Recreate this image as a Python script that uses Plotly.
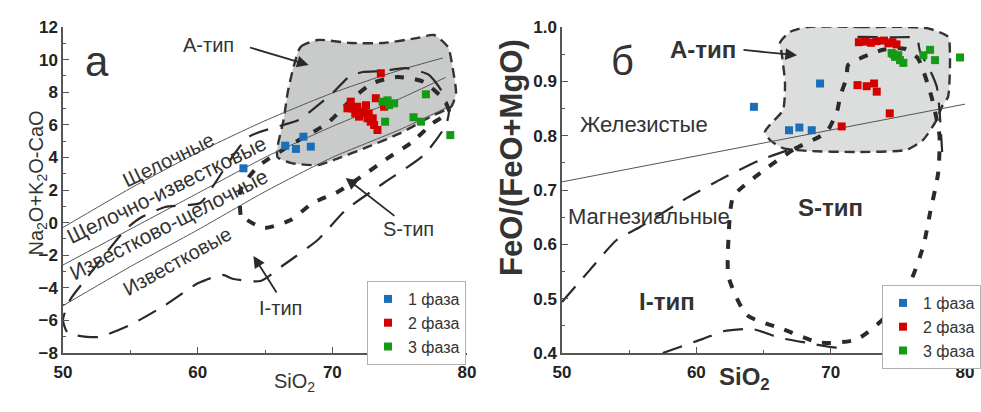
import plotly.graph_objects as go

# ---------------- data: panel a (SiO2 vs Na2O+K2O-CaO) ----------------
a_phase1_x = [63.4, 66.5, 67.3, 67.85, 68.4]
a_phase1_y = [3.33, 4.72, 4.52, 5.27, 4.66]
a_phase2_x = [71.37, 71.12, 71.86, 72.11, 72.36, 71.98, 72.61, 72.85, 73.10, 73.35,
              73.23, 73.60, 73.84, 71.5, 72.5, 72.7, 73.0, 71.7]
a_phase2_y = [7.42, 7.01, 7.11, 6.80, 6.71, 6.50, 6.40, 6.19, 5.99, 5.68,
              7.63, 9.16, 7.11, 7.0, 7.2, 6.7, 6.4, 6.7]
a_phase3_x = [73.72, 74.22, 74.59, 73.92, 76.95, 76.03, 76.58, 78.76, 74.1]
a_phase3_y = [7.42, 7.21, 7.32, 6.19, 7.87, 6.46, 6.19, 5.37, 7.5]

# boundary lines
a_line1_x = [50, 55, 60, 65, 70, 75, 78.2]
a_line1_y = [-0.3, 2.1, 4.3, 6.25, 7.95, 9.35, 10.1]
a_line2_x = [50, 55, 60, 65, 70, 75, 78.4]
a_line2_y = [-2.6, -0.4, 1.8, 4.0, 5.9, 7.6, 8.9]
a_line3_x = [50, 55, 60, 65, 70, 75, 78.6]
a_line3_y = [-5.1, -2.7, -0.45, 1.9, 4.0, 5.7, 7.1]

# A-type field
a_A_x = [67.12, 67.64, 68.91, 71.37, 73.82, 76.35, 77.54, 78.59, 78.96, 79.18, 78.81, 77.54,
         75.09, 72.63, 70.1, 68.91, 66.9, 65.93, 65.93, 66.38, 66.68, 67.12]
a_A_y = [9.55, 10.77, 11.2, 11.02, 11.02, 11.33, 11.51, 10.77, 9.36, 7.95, 7.09, 6.6,
         5.5, 4.64, 3.84, 3.53, 3.66, 4.02, 4.64, 6.29, 7.95, 9.55]
# I-type field
a_I_x = [75.46, 77.17, 78.07, 78.66, 78.44, 76.8, 73.82, 70.99, 68.91, 66.38, 64.67, 62.66,
         61.84, 60.05, 57.59, 54.99, 52.61, 50.37, 50.0, 50.52, 51.64, 54.62, 55.73, 57.59,
         60.2, 61.09, 63.77, 67.49, 68.76, 70.03, 71.22, 72.26, 73.75, 75.46]
a_I_y = [9.48, 9.06, 8.13, 6.91, 5.99, 4.15, 2.43, 0.77, -1.07, -2.60, -3.58, -3.46,
         -3.21, -3.71, -5.06, -6.28, -7.02, -6.77, -5.98, -4.75, -3.52, -0.45, 0.28, 0.96,
         1.2, 2.18, 5.25, 6.29, 7.09, 7.95, 8.93, 9.24, 9.3, 9.48]
# S-type field
a_S_x = [63.18, 63.18, 64.44, 66.9, 69.65, 71.37, 73.0, 74.86, 76.8, 78.29, 78.66, 77.47,
         75.83, 74.12, 72.33, 70.4, 68.54, 66.9, 64.89, 63.18]
a_S_y = [0.47, 2.0, 3.41, 4.76, 6.11, 7.52, 8.56, 8.93, 8.63, 7.52, 6.79, 6.11,
         4.88, 3.96, 2.92, 1.88, 1.2, 0.16, -0.33, 0.41]

# ---------------- data: panel б (SiO2 vs FeO/(FeO+MgO)) ----------------
b_phase1_x = [64.29, 69.21, 66.9, 67.67, 68.59]
b_phase1_y = [0.853, 0.896, 0.810, 0.815, 0.810]
b_phase2_x = [72.1, 72.6, 73.0, 73.4, 73.97, 74.3, 74.6, 74.9,
              72.0, 72.68, 73.23, 73.43, 74.4, 70.82]
b_phase2_y = [0.972, 0.973, 0.971, 0.974, 0.975, 0.970, 0.972, 0.968,
              0.893, 0.891, 0.896, 0.881, 0.841, 0.817]
b_phase3_x = [74.54, 74.79, 75.03, 75.16, 75.41, 74.66, 76.9, 77.4, 77.77, 79.63]
b_phase3_y = [0.952, 0.945, 0.948, 0.939, 0.934, 0.950, 0.948, 0.958, 0.939, 0.944]

b_line_x = [50, 80]
b_line_y = [0.715, 0.858]

b_A_x = [68.22, 72.18, 77.15, 78.74, 78.88, 78.74, 78.27, 77.89, 76.87, 75.66, 71.94, 68.22,
         66.45, 65.48, 65.11, 65.48, 66.45, 66.6, 66.35, 66.23, 66.97, 68.22]
b_A_y = [1.0, 1.0, 0.998, 0.982, 0.952, 0.872, 0.853, 0.829, 0.792, 0.774, 0.770, 0.772,
         0.777, 0.792, 0.807, 0.820, 0.847, 0.897, 0.952, 0.971, 0.991, 1.0]
b_I1_x = [50, 52.08, 54.07, 55.8, 59.28, 62.0, 64.74, 67.0]
b_I1_y = [0.494, 0.553, 0.608, 0.632, 0.685, 0.722, 0.755, 0.775]
b_I2_x = [57.5, 60.5, 62.0, 64.2, 66.2, 68.2, 70.5, 71.2]
b_I2_y = [0.40, 0.426, 0.44, 0.444, 0.428, 0.419, 0.41, 0.418]
b_I3_x = [72.0, 74.5, 76.4, 76.65, 77.5, 77.9, 78.1, 78.3]
b_I3_y = [0.982, 0.981, 0.979, 0.955, 0.915, 0.89, 0.847, 0.77]
b_S_x = [69.7, 67.2, 64.74, 62.75, 62.4, 62.4, 63.75, 66.45, 69.2, 71.94, 74.4, 75.9,
         76.9, 77.4, 78.0, 78.1, 77.5, 76.5, 75.5, 73.9, 71.3, 71.2, 70.7, 70.5, 69.7]
b_S_y = [0.807, 0.774, 0.731, 0.688, 0.614, 0.54, 0.47, 0.444, 0.419, 0.425, 0.474, 0.529,
         0.597, 0.658, 0.731, 0.80, 0.872, 0.942, 0.96, 0.958, 0.93, 0.908, 0.872, 0.847, 0.807]

legend_names = ["1 фаза", "2 фаза", "3 фаза"]
colors = ["#1a6fb8", "#d40000", "#149a14"]

FONT = "Liberation Sans, Arial, sans-serif"
DARK = "#333333"

fig = go.Figure()

def line(x, y, xa, ya, dash, width, fill=None, fillcolor=None, spline=True, color=DARK):
    fig.add_trace(go.Scatter(
        x=x, y=y, xaxis=xa, yaxis=ya, mode="lines", showlegend=False, hoverinfo="skip",
        line=dict(color=color, width=width, dash=dash, shape="spline" if spline else "linear",
                  smoothing=0.6),
        fill=fill, fillcolor=fillcolor))

A_DASH, I_DASH, S_DASH = "10px,6px", "20px,12px", "9px,11px"

# ---- panel a
line(a_A_x, a_A_y, "x", "y", A_DASH, 2.4, fill="toself", fillcolor="#c9caca")
for lx, ly in [(a_line1_x, a_line1_y), (a_line2_x, a_line2_y), (a_line3_x, a_line3_y)]:
    line(lx, ly, "x", "y", "solid", 1, color="#555555")
line(a_I_x, a_I_y, "x", "y", I_DASH, 2.2, color="#2a2a2a")
line(a_S_x, a_S_y, "x", "y", S_DASH, 4, color="#2a2a2a")

for xs, ys, nm, c in zip([a_phase1_x, a_phase2_x, a_phase3_x], [a_phase1_y, a_phase2_y, a_phase3_y],
                         legend_names, colors):
    fig.add_trace(go.Scatter(x=xs, y=ys, xaxis="x", yaxis="y", mode="markers", name=nm,
                             marker=dict(symbol="square", size=8, color=c, line=dict(width=0)),
                             legend="legend"))

# ---- panel б
line(b_A_x, b_A_y, "x2", "y2", A_DASH, 2.4, fill="toself", fillcolor="#dcdddd")
line(b_line_x, b_line_y, "x2", "y2", "solid", 1, color="#555555", spline=False)
line(b_I1_x, b_I1_y, "x2", "y2", I_DASH, 2.2, color="#2a2a2a")
line(b_I2_x, b_I2_y, "x2", "y2", I_DASH, 2.2, color="#2a2a2a")
line(b_I3_x, b_I3_y, "x2", "y2", I_DASH, 2.2, color="#2a2a2a")
line(b_S_x, b_S_y, "x2", "y2", S_DASH, 4, color="#2a2a2a")

for xs, ys, nm, c in zip([b_phase1_x, b_phase2_x, b_phase3_x], [b_phase1_y, b_phase2_y, b_phase3_y],
                         legend_names, colors):
    fig.add_trace(go.Scatter(x=xs, y=ys, xaxis="x2", yaxis="y2", mode="markers", name=nm,
                             marker=dict(symbol="square", size=8, color=c, line=dict(width=0)),
                             legend="legend2"))

W, H = 981, 412
ax_common = dict(showgrid=False, zeroline=False, showline=True, linecolor="#555555", linewidth=1.5,
                 ticks="inside", ticklen=6, tickcolor="#555555", tickwidth=1.2, automargin=False,
                 tickfont=dict(family=FONT, size=17, color="#222222", weight="bold"))

fig.update_layout(
    width=W, height=H, margin=dict(l=0, r=0, t=0, b=0, autoexpand=False),
    paper_bgcolor="white", plot_bgcolor="white",
    font=dict(family=FONT, color=DARK),
    xaxis=dict(domain=[63 / W, 467 / W], range=[50, 80], tickvals=[50, 60, 70, 80], anchor="y",
               ticklabelstandoff=3,
               minor=dict(dtick=5, ticks="inside", ticklen=3, tickcolor="#555555"), **ax_common),
    yaxis=dict(domain=[1 - 353 / H, 1 - 27 / H], range=[-8, 12], dtick=2, anchor="x",
               minor=dict(dtick=1, ticks="inside", ticklen=3, tickcolor="#555555"), **ax_common),
    xaxis2=dict(domain=[562 / W, 965 / W], range=[50, 80], tickvals=[50, 60, 70, 80], anchor="y2",
                ticklabelstandoff=3,
                minor=dict(dtick=5, ticks="inside", ticklen=3, tickcolor="#555555"), **ax_common),
    yaxis2=dict(domain=[1 - 353 / H, 1 - 27 / H], range=[0.4, 1.0], dtick=0.1, tickformat=".1f",
                anchor="x2", minor=dict(dtick=0.05, ticks="inside", ticklen=3, tickcolor="#555555"),
                **ax_common),
    legend=dict(x=367 / W, y=1 - 281 / H, xanchor="left", yanchor="top", bgcolor="white",
                bordercolor="#b0b0b0", borderwidth=1, font=dict(family=FONT, size=16, color=DARK),
                itemwidth=30, tracegroupgap=0),
    legend2=dict(x=882 / W, y=1 - 285 / H, xanchor="left", yanchor="top", bgcolor="white",
                 bordercolor="#b0b0b0", borderwidth=1, font=dict(family=FONT, size=16, color=DARK),
                 itemwidth=30, tracegroupgap=0),
)

ann = []
def txt(x, y, s, xr, yr, size, bold=False, angle=0, color=DARK):
    ann.append(dict(x=x, y=y, xref=xr, yref=yr, text=s, showarrow=False, textangle=angle,
                    font=dict(family=FONT, size=size, color=color, weight="bold" if bold else "normal")))

def arrow(x0, y0, x1, y1, xr, yr):
    ann.append(dict(x=x1, y=y1, ax=x0, ay=y0, xref=xr, yref=yr, axref=xr, ayref=yr, text="",
                    showarrow=True, arrowhead=2, arrowsize=1.3, arrowwidth=1.8, arrowcolor="#2a2a2a"))

# panel a labels
txt(52.5, 9.9, "а", "x", "y", 42)
txt(60.8, 10.9, "А-тип", "x", "y", 20)
arrow(63.77, 10.77, 68.24, 9.67, "x", "y")
txt(75.68, -0.39, "S-тип", "x", "y", 20)
arrow(74.72, 0.34, 70.99, 2.74, "x", "y")
txt(66.15, -5.24, "I-тип", "x", "y", 20)
arrow(65.93, -4.38, 64.14, -2.05, "x", "y")
txt(57.8, 3.85, "Щелочные", "x", "y", 20, angle=-26)
txt(57.7, 2.05, "Щелочно-известковые", "x", "y", 21, angle=-26)
txt(57.8, -0.1, "Известково-щелочные", "x", "y", 21, angle=-27)
txt(58.5, -2.36, "Известковые", "x", "y", 20, angle=-29)

# panel б labels
txt(54.47, 0.938, "б", "x2", "y2", 40)
txt(60.5, 0.958, "А-тип", "x2", "y2", 24, bold=True)
arrow(63.4, 0.958, 67.5, 0.948, "x2", "y2")
txt(56.1, 0.82, "Железистые", "x2", "y2", 22)
txt(56.5, 0.652, "Магнезиальные", "x2", "y2", 22)
txt(69.95, 0.667, "S-тип", "x2", "y2", 24, bold=True)
txt(57.82, 0.494, "I-тип", "x2", "y2", 24, bold=True)

# axis titles
txt(22 / W, 1 - 183 / H, "Na<sub>2</sub>O+K<sub>2</sub>O-CaO", "paper", "paper", 20, angle=-90)
txt(272 / W, 1 - 397 / H, "SiO<sub>2</sub>", "paper", "paper", 20)
txt(511 / W, 1 - 158 / H, "FeO/(FeO+MgO)", "paper", "paper", 31, bold=True, angle=-90)
txt(772 / W, 1 - 396 / H, "SiO<sub>2</sub>", "paper", "paper", 24, bold=True)

fig.update_layout(annotations=ann)
fig.write_html("out.html")
